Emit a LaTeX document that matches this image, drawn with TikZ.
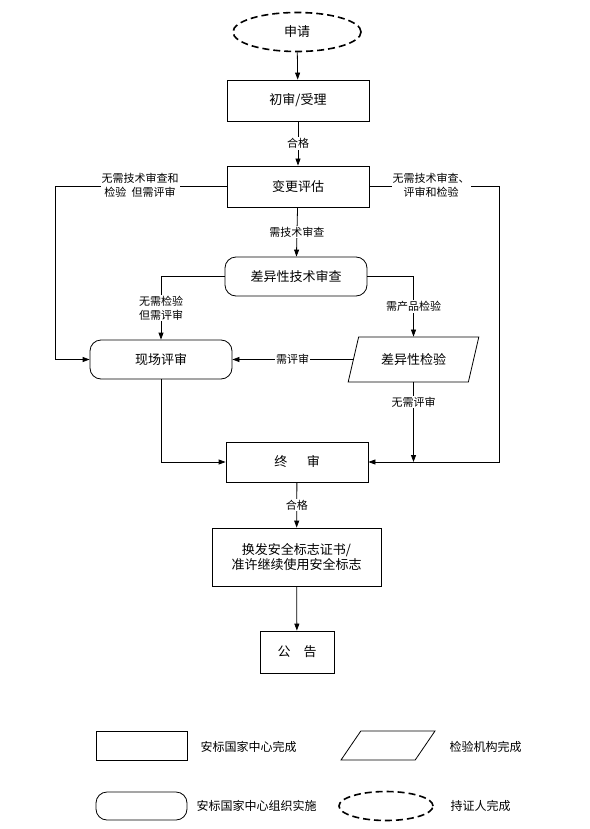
\documentclass[tikz,border=0pt]{standalone}
\usepackage{fontspec}
\setmainfont{Noto Sans CJK SC}
\usetikzlibrary{shapes.geometric,arrows.meta}
\begin{document}
\begin{tikzpicture}[x=1pt, y=-1pt, line width=0.8pt,
        box/.style={draw, minimum width=142pt, minimum height=41pt, font=\fontsize{13}{15}\selectfont},
        rbox/.style={box, minimum height=39pt, rounded corners=11pt},
        para/.style={draw, trapezium, trapezium left angle=70, trapezium right angle=110,
            trapezium stretches=true, font=\fontsize{13}{15}\selectfont},
        dashellipse/.style={draw, ellipse, dashed, line width=1.6pt, dash pattern=on 7pt off 4pt},
        lbl/.style={fill=white, inner sep=1pt, align=center, font=\fontsize{11}{14}\selectfont},
        legtext/.style={anchor=west, font=\fontsize{12}{14}\selectfont},
        arr/.style={-{Triangle[length=7pt, width=5pt]}}]
        \useasboundingbox (0,0) rectangle (589,829);
        % Process
        \node[dashellipse, minimum width=128pt, minimum height=39pt, font=\fontsize{13}{15}\selectfont]
            (apply) at (297, 32) {申请};
        \node[box] (init) at (298, 100.5) {初审/受理};
        \node[box] (eval) at (298, 186.5) {变更评估};
        \node[rbox] (diff) at (296, 276.5) {差异性技术审查};
        \node[rbox] (site) at (161, 359.5) {现场评审};
        \node[para, minimum width=131pt, minimum height=45pt] (test) at (413.5, 359.5) {差异性检验};
        \node[box, minimum height=40pt] (final) at (297, 462) {终\hspace{1.5em}审};
        \node[box, minimum width=169pt, minimum height=58pt, align=center] (cert) at (296.5, 557)
            {换发安全标志证书/\\准许继续使用安全标志};
        \node[box, minimum width=74pt, minimum height=42pt] (notice) at (297, 652) {公\hspace{1em}告};
        % Connectors
        \foreach \a/\b in {apply/init, cert/notice}
        {
            \draw[arr] (\a) -- (\b);
        }
        \draw[arr] (init) -- (eval) node[lbl, midway] {合格};
        \draw[arr] (eval) -- (diff) node[lbl, midway] {需技术审查};
        \draw[arr] (final) -- (cert) node[lbl, midway] {合格};
        \draw[arr] (eval.west) -- (55, 186.5) |- (site.west);
        \node[lbl] (lnote) at (140, 185.5) {无需技术审查和\\检验\hspace{0.5em}但需评审};
        \draw[arr] (eval.east) -- (499, 186.5) |- (final.east);
        \node[lbl] (rnote) at (431, 185.5) {无需技术审查、\\评审和检验};
        \draw[arr] (diff.west) -| (site.north)
            node[lbl, pos=0.75] {无需检验\\但需评审};
        \draw[arr] (diff.east) -| (test.north)
            node[lbl, pos=0.75] {需产品检验};
        \draw[arr] (test.west) -- (site.east) node[lbl, midway] {需评审};
        \coordinate (join) at (test.south |- final.east);
        \draw[arr] (test.south) -- (join) node[lbl, pos=0.25] {无需评审};
        \draw[arr] (site.south) |- (final.west);
        % Legend
        \node[draw, minimum width=91pt, minimum height=29pt] (lrect) at (141.5, 745.5) {};
        \node[legtext] (trect) at (197, 747) {安标国家中心完成};
        \node[para, minimum width=94pt, minimum height=29pt] (lpara) at (388, 745.5) {};
        \node[legtext] (tpara) at (446, 747) {检验机构完成};
        \node[draw, minimum width=91pt, minimum height=28pt, rounded corners=11pt] (lround) at (141.5, 806) {};
        \node[legtext] (tround) at (193, 806) {安标国家中心组织实施};
        \node[dashellipse, minimum width=94pt, minimum height=29pt] (lellipse) at (386, 806) {};
        \node[legtext] (tellipse) at (447, 806) {持证人完成};
\end{tikzpicture}
\end{document}
